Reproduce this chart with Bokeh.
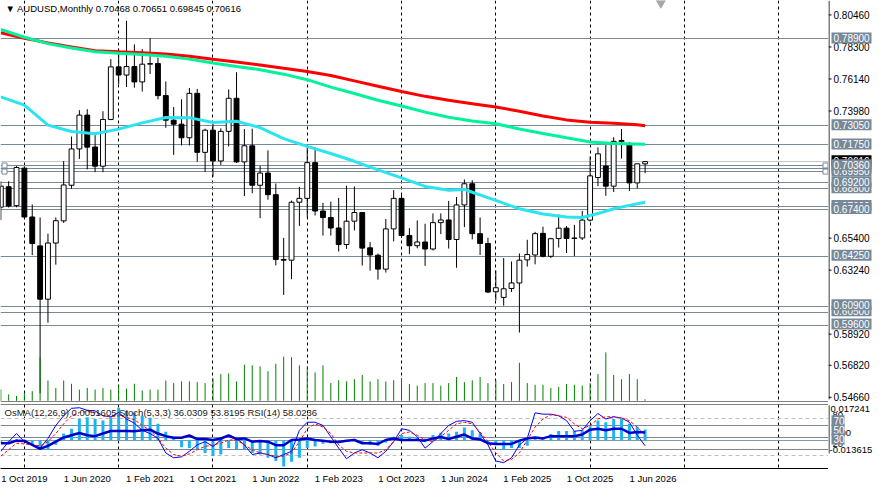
import pandas as pd
from bokeh.plotting import figure
from bokeh.models import Range1d, LinearAxis, FixedTicker, Label, Span
from bokeh.layouts import column, row
from bokeh.embed import file_html
from bokeh.resources import INLINE
from bokeh.core.properties import value

FONT = "Liberation Sans"

# ---------------- data (monthly AUDUSD) ----------------
symbol = "AUDUSD,Monthly"
months = [str(m) for m in pd.period_range("2019-10", periods=83, freq="M")]

opens = [0.6756, 0.6893, 0.6766, 0.7018, 0.6690, 0.6496, 0.6138, 0.6515, 0.6664, 0.6903,
         0.7147, 0.7374, 0.7160, 0.7031, 0.7345, 0.7698, 0.7643, 0.7700, 0.7597, 0.7716,
         0.7720, 0.7505, 0.7340, 0.7313, 0.7222, 0.7520, 0.7124, 0.7273, 0.7066, 0.7265,
         0.7487, 0.7060, 0.7168, 0.6903, 0.6985, 0.6840, 0.6405, 0.6400, 0.6789, 0.6815,
         0.7055, 0.6730, 0.6686, 0.6616, 0.6505, 0.6662, 0.6720, 0.6483, 0.6433, 0.6340,
         0.6610, 0.6815, 0.6566, 0.6497, 0.6522, 0.6475, 0.6652, 0.6670, 0.6539, 0.6771,
         0.6913, 0.6578, 0.6512, 0.6188, 0.6150, 0.6210, 0.6247, 0.6402, 0.6435, 0.6580,
         0.6426, 0.6545, 0.6615, 0.6546, 0.6549, 0.6669, 0.6955, 0.7032, 0.6897, 0.7196,
         0.7173, 0.6919, 0.70468]
highs = [0.6929, 0.6930, 0.7032, 0.7030, 0.6774, 0.6687, 0.6578, 0.6687, 0.7066, 0.7230,
         0.7407, 0.7414, 0.7240, 0.7400, 0.7750, 0.7820, 0.8007, 0.7849, 0.7818, 0.7890,
         0.7760, 0.7600, 0.7428, 0.7480, 0.7556, 0.7550, 0.7283, 0.7315, 0.7285, 0.7547,
         0.7662, 0.7280, 0.7283, 0.7033, 0.7137, 0.6915, 0.6550, 0.6800, 0.6893, 0.7158,
         0.7157, 0.6785, 0.6793, 0.6818, 0.6900, 0.6895, 0.6724, 0.6522, 0.6445, 0.6676,
         0.6871, 0.6839, 0.6615, 0.6667, 0.6645, 0.6714, 0.6714, 0.6798, 0.6824, 0.6942,
         0.6937, 0.6687, 0.6550, 0.6331, 0.6414, 0.6391, 0.6445, 0.6537, 0.6590, 0.6625,
         0.6550, 0.6707, 0.6630, 0.6637, 0.6730, 0.7096, 0.7157, 0.7173, 0.7226, 0.7281,
         0.7194, 0.7049, 0.70651]
lows = [0.6669, 0.6754, 0.6755, 0.6683, 0.6434, 0.5506, 0.5980, 0.6370, 0.6650, 0.6880,
        0.7080, 0.7010, 0.6991, 0.6991, 0.7340, 0.7580, 0.7563, 0.7558, 0.7532, 0.7650,
        0.7480, 0.7289, 0.7107, 0.7170, 0.7170, 0.7060, 0.6993, 0.6960, 0.7040, 0.7164,
        0.7053, 0.6830, 0.6850, 0.6682, 0.6806, 0.6365, 0.6167, 0.6272, 0.6630, 0.6688,
        0.6700, 0.6565, 0.6565, 0.6458, 0.6476, 0.6600, 0.6364, 0.6330, 0.6270, 0.6317,
        0.6526, 0.6550, 0.6442, 0.6480, 0.6362, 0.6465, 0.6575, 0.6478, 0.6349, 0.6622,
        0.6540, 0.6435, 0.6179, 0.6131, 0.6095, 0.6187, 0.5914, 0.6357, 0.6372, 0.6419,
        0.6414, 0.6485, 0.6448, 0.6427, 0.6535, 0.6659, 0.6897, 0.6832, 0.6858, 0.7082,
        0.6864, 0.6882, 0.69845]
closes = [0.6897, 0.6763, 0.7022, 0.6690, 0.6512, 0.6138, 0.6515, 0.6665, 0.6905, 0.7147,
          0.7374, 0.7159, 0.7031, 0.7345, 0.7698, 0.7643, 0.7700, 0.7597, 0.7716, 0.7720,
          0.7505, 0.7340, 0.7313, 0.7222, 0.7520, 0.7124, 0.7273, 0.7066, 0.7265, 0.7487,
          0.7060, 0.7168, 0.6903, 0.6985, 0.6840, 0.6405, 0.6400, 0.6789, 0.6815, 0.7055,
          0.6730, 0.6686, 0.6616, 0.6505, 0.6662, 0.6720, 0.6481, 0.6435, 0.6340, 0.6610,
          0.6815, 0.6566, 0.6497, 0.6522, 0.6475, 0.6652, 0.6670, 0.6539, 0.6771, 0.6913,
          0.6578, 0.6512, 0.6186, 0.6215, 0.6208, 0.6247, 0.6400, 0.6438, 0.6578, 0.6426,
          0.6544, 0.6615, 0.6546, 0.6549, 0.6669, 0.6966, 0.7114, 0.6897, 0.7198, 0.7204,
          0.6919, 0.7047, 0.70616]
volumes = [116, 66, 50, 83, 100, 450, 210, 133, 210, 176,
           116, 133, 116, 133, 116, 166, 126, 176, 106, 116,
           116, 210, 183, 200, 200, 193, 183, 233, 276, 283,
           200, 373, 366, 356, 306, 383, 456, 450, 366, 356,
           293, 366, 183, 213, 200, 223, 266, 200, 223, 200,
           213, 233, 173, 156, 183, 183, 156, 183, 246, 193,
           213, 246, 183, 216, 173, 193, 393, 183, 166, 166,
           133, 143, 173, 166, 156, 183, 276, 500, 266, 223,
           276, 223, 16]

# moving averages, read at sampled bars
ma_red_idx = [0, 3, 6, 9, 12, 15, 18, 21, 24, 27, 30, 33, 36, 39, 42, 45, 48, 51, 54, 57,
              60, 63, 66, 69, 72, 75, 78, 81, 82]
ma_red = [0.7927, 0.7890, 0.7859, 0.7831, 0.7807, 0.7799, 0.7792, 0.7785, 0.7770, 0.7749,
          0.7731, 0.7711, 0.7688, 0.7667, 0.7640, 0.7604, 0.7568, 0.7532, 0.7500, 0.7474,
          0.7451, 0.7428, 0.7400, 0.7368, 0.7342, 0.7326, 0.7320, 0.7309, 0.7303]
ma_green_idx = [0, 3, 6, 9, 12, 15, 18, 21, 24, 27, 30, 33, 36, 39, 42, 45, 48, 51, 54, 57,
                60, 63, 66, 69, 72, 75, 78, 82]
ma_green = [0.7949, 0.7897, 0.7854, 0.7825, 0.7799, 0.7789, 0.7781, 0.7770, 0.7750, 0.7724,
            0.7701, 0.7679, 0.7649, 0.7612, 0.7562, 0.7519, 0.7474, 0.7435, 0.7394, 0.7360,
            0.7334, 0.7316, 0.7281, 0.7251, 0.7222, 0.7194, 0.7183, 0.7179]
ma_cyan_idx = [0, 3, 6, 9, 12, 15, 18, 21, 24, 27, 30, 33, 36, 39, 42, 45, 48, 51, 54, 57,
               59, 60, 63, 66, 69, 72, 74, 76, 78, 80, 82]
ma_cyan = [0.7497, 0.7441, 0.7307, 0.7264, 0.7249, 0.7280, 0.7322, 0.7358, 0.7357, 0.7325,
           0.7333, 0.7290, 0.7216, 0.7164, 0.7116, 0.7064, 0.7006, 0.6953, 0.6895, 0.6869,
           0.6875, 0.6856, 0.6801, 0.6745, 0.6710, 0.6690, 0.6687, 0.6713, 0.6745, 0.6768, 0.6789]

# horizontal levels (in drawing order)
levels = [0.7890, 0.7305, 0.7175, 0.7015, 0.6995, 0.7036, 0.6880, 0.6920, 0.6760, 0.6740,
          0.6425, 0.6050, 0.6090, 0.5960]
selected_levels = [0.7036, 0.6995]

price_ticks = [0.80460, 0.78300, 0.76140, 0.73980, 0.65400, 0.63240, 0.58920, 0.56820, 0.54660]

# oscillators
osma = [-0.0011, -0.0006, 0.0005, 0.0002, -0.0022, -0.0045, -0.0045, -0.0022, 0.0033, 0.0056,
        0.0103, 0.0111, 0.0103, 0.0095, 0.0111, 0.0157, 0.0142, 0.0134, 0.0118, 0.0108,
        0.0079, 0.0041, 0.0017, -0.0034, -0.0037, -0.0045, -0.0061, -0.0076, -0.0069, -0.0037,
        -0.0045, -0.0045, -0.0061, -0.0069, -0.0084, -0.0100, -0.0126, -0.0104, -0.0084, -0.0037,
        -0.0030, -0.0017, -0.0014, -0.0011, -0.0003, 0.0005, -0.0011, -0.0022, -0.0026, -0.0011,
        0.0017, 0.0025, 0.0017, 0.0014, 0.0009, 0.0025, 0.0036, 0.0033, 0.0041, 0.0061,
        0.0048, 0.0033, -0.0011, -0.0022, -0.0045, -0.0037, -0.0037, -0.0026, 0.0009, 0.0005,
        0.0030, 0.0045, 0.0045, 0.0045, 0.0048, 0.0067, 0.0095, 0.0087, 0.0103, 0.0103,
        0.0079, 0.0064, 0.0051605]
stoch_main = [26.9, 42.8, 56.1, 42.8, 37.5, 32.2, 48.1, 69.4, 85.3, 97.5,
              98.5, 94.3, 93.2, 85.3, 83.7, 90.6, 80.0, 73.1, 61.4, 56.1,
              48.1, 24.2, 16.3, 17.9, 26.9, 37.5, 42.8, 34.8, 45.5, 53.4,
              48.1, 37.5, 21.6, 24.2, 21.6, 16.3, 21.6, 26.9, 61.4, 74.7,
              74.7, 69.4, 50.8, 32.2, 14.7, 24.2, 29.5, 24.2, 16.3, 26.9,
              42.8, 64.0, 61.4, 50.8, 32.2, 42.8, 56.1, 69.4, 76.2, 77.3,
              74.7, 56.1, 37.5, 11.0, 8.3, 16.3, 37.5, 48.1, 90.1, 87.9,
              87.9, 85.3, 77.3, 59.8, 61.4, 77.3, 89.0, 80.0, 83.7, 81.6,
              74.7, 53.4, 36.0309]
stoch_signal = [18.9, 29.5, 40.2, 39.1, 37.5, 35.9, 42.8, 56.1, 72.0, 85.3,
                90.6, 92.2, 90.6, 85.3, 83.7, 85.3, 82.6, 78.9, 69.4, 61.4,
                48.1, 32.2, 21.6, 18.9, 22.6, 29.5, 34.8, 37.5, 40.2, 45.5,
                45.5, 37.5, 29.5, 24.2, 21.6, 18.9, 18.9, 24.2, 42.8, 64.0,
                72.0, 66.7, 56.1, 37.5, 26.9, 24.2, 24.2, 24.2, 24.2, 29.5,
                42.8, 56.1, 58.7, 53.4, 45.5, 42.8, 50.8, 61.4, 72.0, 74.7,
                72.0, 58.7, 42.8, 24.2, 11.0, 13.6, 24.2, 45.5, 66.7, 80.0,
                86.9, 85.3, 82.6, 72.0, 64.0, 69.4, 80.0, 83.7, 83.7, 81.6,
                77.3, 66.7, 53.8195]
rsi = [40.2, 40.2, 44.4, 43.9, 37.5, 31.1, 35.9, 42.8, 49.7, 53.4,
       57.1, 53.4, 51.8, 56.1, 60.3, 60.3, 60.3, 59.8, 61.4, 62.5,
       56.1, 51.8, 49.2, 49.2, 52.9, 47.1, 47.1, 45.5, 48.1, 52.9,
       47.1, 48.1, 42.8, 43.9, 42.8, 37.0, 37.0, 45.5, 46.5, 48.1,
       45.5, 44.4, 42.8, 42.3, 44.4, 45.5, 40.2, 40.2, 39.1, 45.5,
       48.1, 45.5, 45.5, 45.5, 44.4, 48.1, 50.5, 47.1, 50.8, 54.5,
       48.1, 46.5, 40.2, 39.1, 39.1, 39.1, 44.4, 48.1, 49.7, 48.1,
       51.8, 51.8, 51.8, 51.8, 54.5, 62.5, 64.0, 61.4, 64.0, 64.0,
       57.1, 58.7, 58.0236]
osc_levels_dashed = [80, 20]
osc_levels_solid = [70, 50, 30]

x_tick_labels = ["1 Oct 2019", "1 Jun 2020", "1 Feb 2021", "1 Oct 2021", "1 Jun 2022",
                 "1 Feb 2023", "1 Oct 2023", "1 Jun 2024", "1 Feb 2025", "1 Oct 2025", "1 Jun 2026"]

# ---------------- layout constants ----------------
W, H = 872, 488
AXW = 44
FW = W - AXW
MAIN_H, MAIN_FH = 403, 401
IND_H, IND_FH = H - MAIN_H, 64
IND_TOP = 1

X_START, X_END = -0.04, 105.34
PPU = FW / (X_END - X_START)
P_LO, P_HI = 0.54511, 0.81436
PPP = MAIN_FH / (P_HI - P_LO)
O_LO, O_HI = -1.3, 103.8
OPX = IND_FH / (O_HI - O_LO)
OSMA_LO, OSMA_HI = -0.013615, 0.017241
VOL_LO, VOL_HI = -7, 4133

LINE_C = "#778899"
BOX_C = "#778899"

bars = list(range(len(opens)))
all_months = pd.period_range(months[0], periods=int(X_END) + 1, freq="M")
separators = [i for i, m in enumerate(all_months) if m.month == 1]

xr = Range1d(X_START, X_END)


def base_fig(width, height, x_range, y_range, **borders):
    f = figure(width=width, height=height, x_range=x_range, y_range=y_range,
               x_axis_location=None, y_axis_location=None,
               output_backend="svg", toolbar_location=None, **borders)
    f.outline_line_color = None
    f.background_fill_color = "white"
    f.border_fill_color = "white"
    f.grid.visible = False
    return f


# ---------------- main price panel ----------------
p = base_fig(FW, MAIN_H, xr, Range1d(P_LO, P_HI), min_border_left=0, min_border_top=0,
             min_border_right=0, min_border_bottom=MAIN_H - MAIN_FH)
p.extra_y_ranges = {"vol": Range1d(VOL_LO, VOL_HI)}

p.vspan(x=separators, line_color="black", line_dash="3 3", line_width=1)
p.hspan(y=levels, line_color=LINE_C, line_width=1)
p.hspan(y=[closes[-1]], line_color="#C8C8C8", line_width=1)

body_top = [max(o, c) for o, c in zip(opens, closes)]
body_bot = [min(o, c) for o, c in zip(opens, closes)]
body_fill = ["white" if c >= o else "black" for o, c in zip(opens, closes)]
p.segment(x0=bars, y0=lows, x1=bars, y1=highs, line_color="black", line_width=1)
p.vbar(x=bars, width=0.62, top=body_top, bottom=body_bot, fill_color=body_fill,
       line_color="black", line_width=1)

p.segment(x0=bars, y0=[0] * len(bars), x1=bars, y1=volumes, y_range_name="vol",
          line_color="#008000", line_width=1)

p.line(ma_red_idx, ma_red, line_color="#FF0000", line_width=3)
p.line(ma_green_idx, ma_green, line_color="#00F29A", line_width=3)
p.line(ma_cyan_idx, ma_cyan, line_color="#2AE4F0", line_width=3)

p.scatter(x=[X_START + 4 / PPU] * len(selected_levels) + [X_END - 3 / PPU] * len(selected_levels),
          y=selected_levels + selected_levels, marker="square", size=5,
          fill_color="white", line_color=LINE_C)
p.scatter(x=[len(bars) + 1], y=[P_HI - 2.5 / PPP], marker="inverted_triangle", size=9,
          fill_color="#A8A8A8", line_color="#A8A8A8")
p.add_layout(Span(location=P_LO, dimension="width", line_color="black", line_width=1))

header = "\u25bc {}  {:.5f} {:.5f} {:.5f} {:.5f}".format(symbol, opens[-1], highs[-1], lows[-1], closes[-1])
p.add_layout(Label(x=X_START + 5 / PPU, y=P_HI - 7.7 / PPP, text=header, text_font=FONT,
                   text_font_size="9.5px", text_color="black", text_align="left",
                   text_baseline="middle"))

# ---------------- price scale (right) ----------------
pa = base_fig(AXW, MAIN_H, Range1d(0, AXW), Range1d(P_LO - (MAIN_H - MAIN_FH) / PPP, P_HI),
              min_border=0)
pa.segment(x0=[0.5], y0=[P_LO], x1=[0.5], y1=[P_HI], line_color="black", line_width=1)
pa.segment(x0=[0] * len(price_ticks), y0=price_ticks, x1=[3] * len(price_ticks), y1=price_ticks,
           line_color="black", line_width=1)
pa.text(x=[5] * len(price_ticks), y=price_ticks, text=["{:.5f}".format(t) for t in price_ticks],
        text_font=value(FONT), text_font_size=value("10px"), text_color="black",
        text_align="left", text_baseline="middle")


def scale_box(fig, yv, txt, bg, width):
    fig.rect(x=[3 + width / 2], y=[yv], width=width, height=11, height_units="screen",
             fill_color=bg, line_color=None)
    fig.text(x=[5], y=[yv], text=[txt], text_font=value(FONT), text_font_size=value("10px"),
             text_color="white", text_align="left", text_baseline="middle")


scale_box(pa, closes[-1], "{:.5f}".format(closes[-1]), "black", 40)
for lv in levels:
    scale_box(pa, lv, "{:.5f}".format(lv), BOX_C, 40)

# ---------------- indicator panel ----------------
q = base_fig(FW, IND_H, xr, Range1d(O_LO, O_HI), min_border_left=0, min_border_top=IND_TOP,
             min_border_right=0, min_border_bottom=IND_H - IND_TOP - IND_FH)
q.extra_y_ranges = {"osma": Range1d(OSMA_LO, OSMA_HI)}

q.vspan(x=separators, line_color="black", line_dash="3 3", line_width=1)
q.hspan(y=osc_levels_dashed, line_color="#BEBEBE", line_dash="4 3", line_width=1)
q.hspan(y=osc_levels_solid, line_color=LINE_C, line_width=1)
q.hspan(y=[0], y_range_name="osma", line_color="#8A97A5", line_width=1)

q.vbar(x=bars, width=0.38, top=osma, bottom=0, y_range_name="osma",
       fill_color="#1CB4F0", line_color=None)
q.line(bars, stoch_main, line_color="#0000FF", line_width=1)
q.line(bars, stoch_signal, line_color="#FF0000", line_width=1, line_dash="3 2")
q.line(bars, rsi, line_color="#0000CD", line_width=2.5)

label_pos = list(range(0, len(bars), 8))
xax = LinearAxis(ticker=FixedTicker(ticks=[i + 3 for i in label_pos]),
                 major_label_overrides={i + 3: t for i, t in zip(label_pos, x_tick_labels)},
                 major_label_text_font=FONT, major_label_text_font_size="9.5px",
                 major_label_text_color="black", major_tick_out=0, major_tick_in=0,
                 minor_tick_out=0, minor_tick_in=0, axis_line_color="black",
                 major_label_standoff=4)
q.add_layout(xax, "below")
q.add_layout(Span(location=O_HI, dimension="width", line_color="black", line_width=1))

ind_title = "OsMA(12,26,9) {:.7f}  Stoch(5,3,3) {:.4f} {:.4f}  RSI(14) {:.4f}".format(
    osma[-1], stoch_main[-1], stoch_signal[-1], rsi[-1])
q.add_layout(Label(x=X_START + 4 / PPU, y=O_HI - 8.0 / OPX, text=ind_title, text_font=FONT,
                   text_font_size="9.5px", text_color="#202020", text_align="left",
                   text_baseline="middle"))

# ---------------- indicator scale (right) ----------------
qa = base_fig(AXW, IND_H, Range1d(0, AXW),
              Range1d(O_LO - (IND_H - IND_TOP - IND_FH) / OPX, O_HI + IND_TOP / OPX),
              min_border=0)
qa.segment(x0=[0.5], y0=[O_LO], x1=[0.5], y1=[O_HI], line_color="black", line_width=1)
osma_zero = O_LO + (0 - OSMA_LO) / (OSMA_HI - OSMA_LO) * (O_HI - O_LO)
scale_texts = ["{:.6f}".format(OSMA_HI), "80", "0.00", "20", "{:.6f}".format(OSMA_LO)]
scale_y = [O_HI - 4.6 / OPX, 80 + 1.0 / OPX, osma_zero - 0.5 / OPX, 20 - 1.0 / OPX, O_LO + 4.6 / OPX]
scale_x = [2, 4, 4, 4, 1]
qa.text(x=scale_x, y=scale_y, text=scale_texts, text_font=value(FONT),
        text_font_size=value("9.5px"), text_color="black", text_align="left",
        text_baseline="middle")
for lv in osc_levels_solid:
    scale_box(qa, lv, str(lv), BOX_C, 13)

layout = column(row(p, pa), row(q, qa))
open("out.html", "w").write(file_html(layout, INLINE, title="AUDUSD Monthly"))
